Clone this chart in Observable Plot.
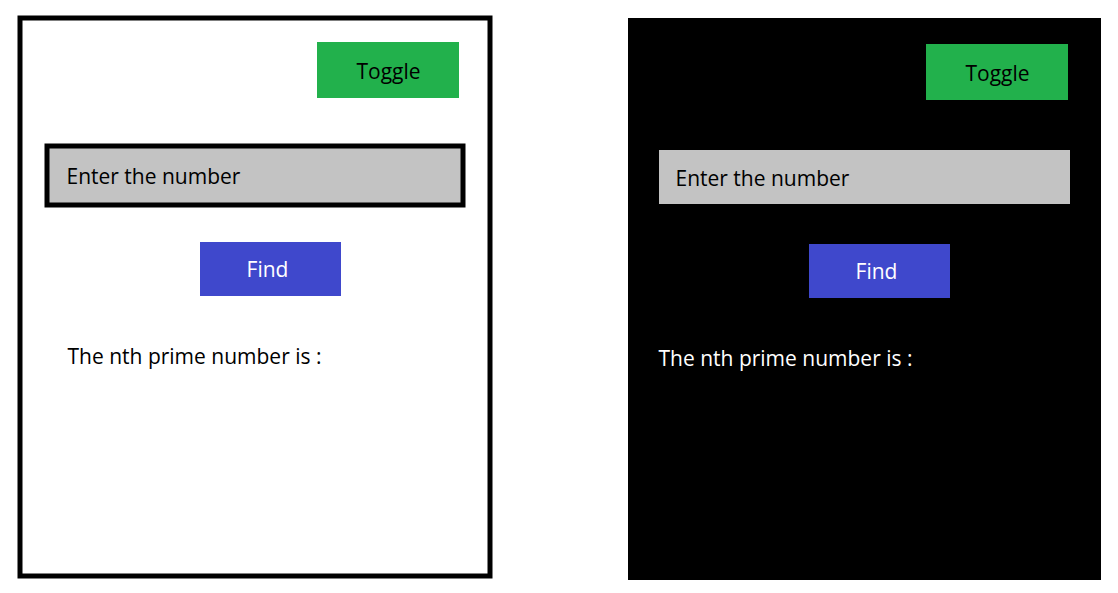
<!DOCTYPE html>
<html><head><meta charset="utf-8">
<script src="https://cdn.jsdelivr.net/npm/d3@7"></script>
<script src="https://cdn.jsdelivr.net/npm/@observablehq/plot@0.6"></script>
<style>body{margin:0;background:#fff}</style>
</head><body>
<div id="chart"></div>
<script>
// Mockup elements: [x1, y1, x2, y2] in picture units (y grows downward)
const boxNames = ["leftFrame","leftToggle","leftInput","leftFind","rightFrame","rightToggle","rightInput","rightFind"];
const boxX1 = [20, 317, 47, 200, 628, 926, 659, 809];
const boxY1 = [18, 42, 146, 242, 18, 44, 150, 244];
const boxX2 = [490, 459, 463, 341, 1101, 1068, 1070, 950];
const boxY2 = [576, 98, 205, 296, 580, 100, 204, 298];
const boxFill = ["#ffffff","#22b14c","#c3c3c3","#3f48cc","#000000","#22b14c","#c3c3c3","#3f48cc"];
const boxStroke = ["#000000","none","#000000","none","none","none","none","none"];

const labels = ["Toggle","Enter the number","Find","The nth prime number is :","Toggle","Enter the number","Find","The nth prime number is :"];
const labelX = [388, 66, 267, 67, 997, 675, 876, 658];
const labelY = [72, 177, 270, 357, 74, 179, 272, 359];
const labelColor = ["#000","#000","#fff","#000","#000","#000","#fff","#fff"];
const labelAnchor = ["middle","start","middle","start","middle","start","middle","start"];

const boxes = boxNames.map((n,i)=>({n,x1:boxX1[i],y1:boxY1[i],x2:boxX2[i],y2:boxY2[i],fill:boxFill[i],stroke:boxStroke[i]}));
const texts = labels.map((t,i)=>({t,x:labelX[i],y:labelY[i],c:labelColor[i],a:labelAnchor[i]}));

const plot = Plot.plot({
  width: 1118, height: 593, margin: 0,
  x: {domain: [0, 1118], axis: null},
  y: {domain: [0, 593], reverse: true, axis: null},
  style: {fontFamily: "'Open Sans', sans-serif"},
  marks: [
    Plot.rect(boxes, {x1:"x1", x2:"x2", y1:"y1", y2:"y2", fill: d=>d.fill, stroke: d=>d.stroke, strokeWidth: 5}),
    Plot.text(texts.filter(d=>d.a==="middle"), {x:"x", y:"y", text:"t", fill: d=>d.c, fontSize: 21, textAnchor: "middle"}),
    Plot.text(texts.filter(d=>d.a==="start"), {x:"x", y:"y", text:"t", fill: d=>d.c, fontSize: 21, textAnchor: "start"})
  ]
});
document.getElementById("chart").appendChild(plot);
</script>
</body></html>
